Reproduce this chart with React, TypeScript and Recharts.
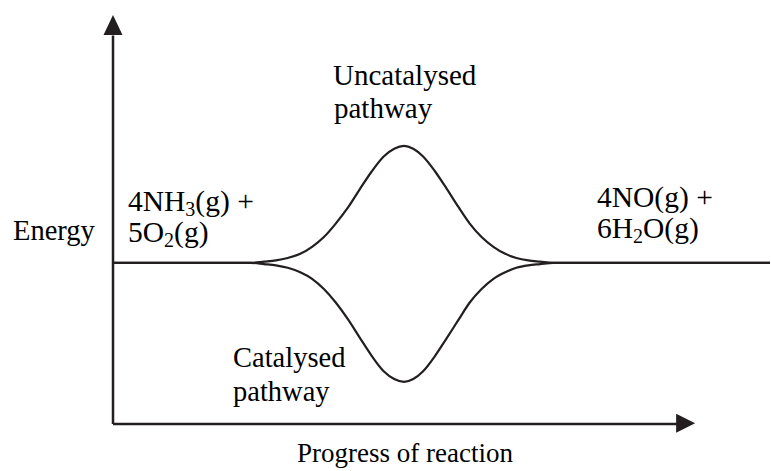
import React from "react";
import { LineChart, Line, XAxis, YAxis, ReferenceLine, ReferenceDot } from "recharts";

// progress of reaction (0-100) and energy (0-100)
const progress = [
  0, 20.9, 23.0, 24.8, 26.6, 28.5, 30.3, 32.1, 33.9, 35.8, 37.6, 39.4, 41.2, 42.8, 44.3,
  45.7, 47.2, 49.0, 50.8, 52.6, 54.3, 56.1, 57.9, 59.7, 61.4, 63.2, 65.0, 67.0, 100,
];
const uncatalysed = [
  39.4, 39.4, 39.7, 40.0, 40.6, 41.6, 43.3, 45.7, 49.0, 53.0, 57.5, 61.8, 65.4, 67.3, 68.0,
  67.3, 65.4, 61.8, 57.5, 53.0, 49.0, 45.7, 43.3, 41.6, 40.6, 40.0, 39.7, 39.4, 39.4,
];
const catalysed = [
  39.4, 39.4, 39.1, 38.8, 38.2, 37.1, 35.5, 33.0, 29.7, 25.5, 21.0, 16.6, 12.9, 11.0, 10.3,
  11.0, 12.9, 16.6, 21.0, 25.5, 29.7, 33.0, 35.5, 37.1, 38.2, 38.8, 39.1, 39.4, 39.4,
];

const data = progress.map((p, i) => ({ p, up: uncatalysed[i], down: catalysed[i] }));

const INK = "#231f20";
const FONT = '"Liberation Serif", "Times New Roman", serif';

const UpArrow = (props: any) => {
  const { cx, cy } = props;
  return <polygon points={`${cx},${cy} ${cx - 9.5},${cy + 20} ${cx + 9.5},${cy + 20}`} fill={INK} />;
};

const RightArrow = (props: any) => {
  const { cx, cy } = props;
  return <polygon points={`${cx},${cy} ${cx - 19},${cy - 9.5} ${cx - 19},${cy + 9.5}`} fill={INK} />;
};

const Sub = ({ children }: { children: string }) => (
  <tspan fontSize={20} dy={5}>{children}</tspan>
);

export default function App() {
  return (
    <div style={{ position: "absolute", left: 0, top: 0, width: 771, height: 471, background: "#fff" }}>
      <LineChart width={771} height={471} data={data} margin={{ top: 15, right: 1, left: 113, bottom: 47 }}>
        <XAxis dataKey="p" type="number" domain={[0, 100]} hide />
        <YAxis type="number" domain={[0, 100]} hide />
        <ReferenceLine segment={[{ x: 0, y: 0 }, { x: 0, y: 95 }]} stroke={INK} strokeWidth={2.5} ifOverflow="visible" />
        <ReferenceLine segment={[{ x: 0, y: 0 }, { x: 86, y: 0 }]} stroke={INK} strokeWidth={2.5} ifOverflow="visible" />
        <ReferenceDot x={0} y={100} r={0} shape={UpArrow} ifOverflow="visible" />
        <ReferenceDot x={88.6} y={0.2} r={0} shape={RightArrow} ifOverflow="visible" />
        <Line type="monotone" dataKey="up" stroke={INK} strokeWidth={2.2} dot={false} isAnimationActive={false} />
        <Line type="monotone" dataKey="down" stroke={INK} strokeWidth={2.2} dot={false} isAnimationActive={false} />
      </LineChart>
      <svg
        width={771}
        height={471}
        style={{ position: "absolute", left: 0, top: 0, pointerEvents: "none" }}
        fontFamily={FONT}
        fill="#000"
      >
        <text x={13} y={240} fontSize={28.5}>Energy</text>
        <g fontSize={29.5}>
          <text x={128} y={211}>4NH<Sub>3</Sub><tspan dy={-5}>(g) +</tspan></text>
          <text x={128} y={242}>5O<Sub>2</Sub><tspan dy={-5}>(g)</tspan></text>
          <text x={597} y={207}>4NO(g) +</text>
          <text x={597} y={238}>6H<Sub>2</Sub><tspan dy={-5}>O(g)</tspan></text>
        </g>
        <g fontSize={29}>
          <text x={333} y={85}>Uncatalysed</text>
          <text x={334} y={118}>pathway</text>
        </g>
        <g fontSize={28.5}>
          <text x={233} y={367}>Catalysed</text>
          <text x={233} y={401}>pathway</text>
        </g>
        <text x={297} y={462} fontSize={27}>Progress of reaction</text>
      </svg>
    </div>
  );
}
